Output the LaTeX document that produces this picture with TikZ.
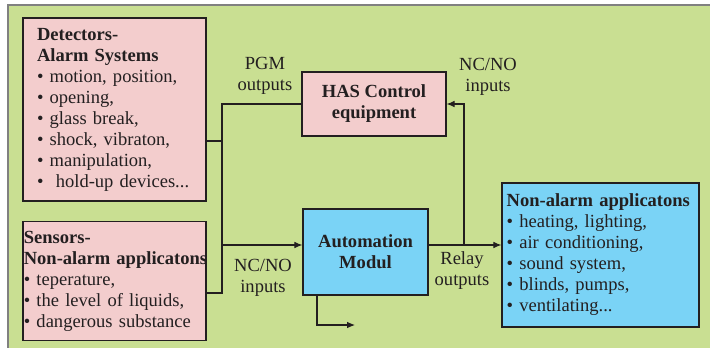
\documentclass[tikz,border=0pt]{standalone}
\usepackage{fontspec}
\setmainfont{Liberation Serif}
\usetikzlibrary{arrows.meta}
\definecolor{bg}{RGB}{201,223,146}
\definecolor{pk}{RGB}{243,205,205}
\definecolor{bl}{RGB}{122,211,246}
\definecolor{ln}{RGB}{35,31,32}

\tikzset{
    box/.style={draw=ln, line width=0.9pt, inner ysep=0pt, font=\fontsize{13.9}{15.75}\selectfont, text=ln},
    listbox/.style={box, align=left},
    titlebox/.style={box, align=center, font=\fontsize{13.9}{15.75}\selectfont\bfseries},
    wire/.style={draw=ln, line width=0.8pt},
    lbl/.style={align=center, inner sep=0pt, text=ln, font=\fontsize{13.9}{15.75}\selectfont}
}

\begin{document}
\begin{tikzpicture}[x=0.75pt, y=-0.75pt]
        \useasboundingbox (0,0) rectangle (710,347);
        \fill[bg] (8,5) rectangle (714,351);
        \draw[draw=gray, line width=1.2pt] (8,351) -- (8,5) -- (714,5);
        % boxes
        \node[listbox, fill=pk, minimum width=137.25pt, minimum height=137.25pt, inner xsep=10.5pt, text width=116.25pt] (det) at (114.5,109.5)
            {\textbf{Detectors-}\\ \textbf{Alarm Systems}\\ • motion, position,\\ • opening,\\ • glass break,\\ • shock, vibraton,\\ • manipulation,\\ •\ \ hold-up devices...};
        \node[listbox, fill=pk, minimum width=137.25pt, minimum height=89.25pt, inner xsep=0.6pt, text width=136pt] (sens) at (114.5,281)
            {\textbf{Sensors-}\\ \mbox{\textbf{Non-alarm applicatons}}\\ • teperature,\\ • the level of liquids,\\ • dangerous substance};
        \node[titlebox, fill=pk, minimum width=108pt, minimum height=48pt] (has) at (374,104) {HAS Control\\ equipment};
        \node[titlebox, fill=bl, minimum width=93.75pt, minimum height=64.5pt] (auto) at (365.5,252) {Automation\\ Modul};
        \node[listbox, fill=bl, minimum width=147.75pt, minimum height=108pt, inner xsep=3.5pt, text width=140.75pt] (appl) at (600.5,255)
            {\mbox{\textbf{Non-alarm applicatons}}\\ • heating, lighting,\\ • air conditioning,\\ • sound system,\\ • blinds, pumps,\\ • ventilating...};
        % connectors
        \coordinate (dj) at (222,141);
        \coordinate (sj) at (222,293);
        \coordinate (ht) at (222,104);
        \coordinate (ai) at (222,245);
        \coordinate (rj) at (464,245);
        \coordinate (aout) at (355,325);
        \draw[wire] (det.east |- dj) -- (dj);
        \draw[wire] (sens.east |- sj) -- (sj) -- (ht) -- (has.west);
        \draw[wire, -{Latex[length=6pt, width=5pt]}] (ai) -- (auto.west |- ai);
        \draw[wire, -{Latex[length=6pt, width=5pt]}] (auto.east |- rj) -- (appl.west |- rj);
        \draw[wire, -{Latex[length=6pt, width=5pt]}] (rj) -- (rj |- has.east) -- (has.east);
        \draw[wire, -{Latex[length=6pt, width=5pt]}] (auto.south -| 317,0) -- (317,325) -- (aout);
        % labels
        \node[lbl] (pgm) at (265,76) {PGM\\ outputs};
        \node[lbl] (ncno1) at (488,77) {NC/NO\\ inputs};
        \node[lbl] (relay) at (462,271) {Relay\\ outputs};
        \node[lbl] (ncno2) at (263,278) {NC/NO\\ inputs};
\end{tikzpicture}
\end{document}
